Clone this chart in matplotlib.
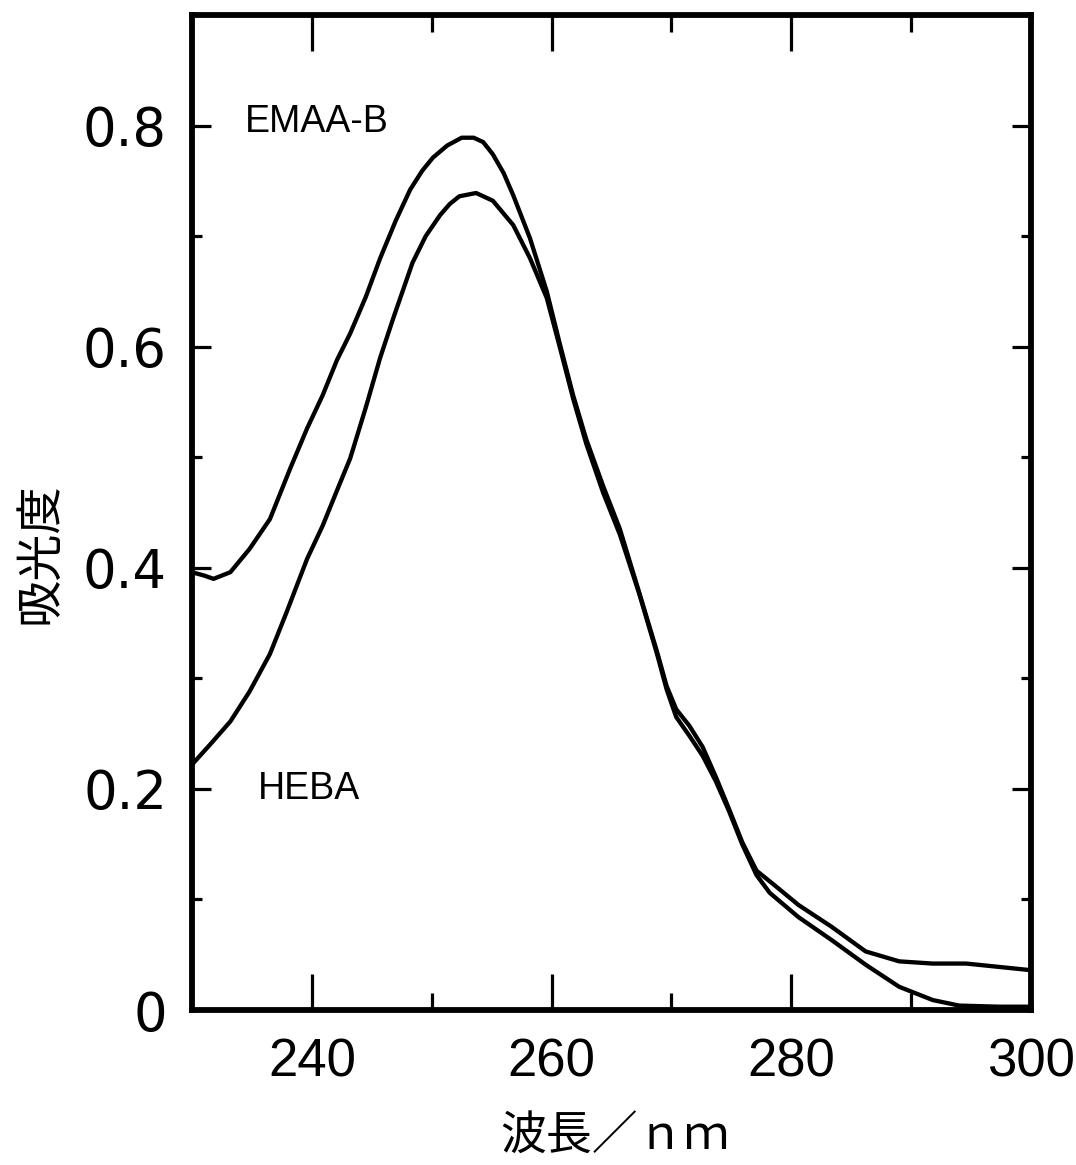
import matplotlib
matplotlib.use("Agg")
import matplotlib.pyplot as plt
from matplotlib.ticker import FixedLocator

# ---- data ----
wl_emaa = [230, 231, 231.8, 233.2, 234.8, 236.5, 238.2, 239.6, 240.9, 242.1,
           243.2, 244.5, 245.7, 247, 248.2, 249.2, 250.1, 251.3, 252.5, 253.5, 254.3,
           255.1, 256.0, 256.8, 258.2, 259.6, 260.7, 261.8, 262.9, 264.3, 265.7,
           267.3, 268.8, 269.6, 270.4, 271.5, 272.6, 273.7, 274.8, 275.9, 277.1,
           278.7, 280.6, 283.4, 286.2, 289, 291.8, 294.6, 297.3, 300]
abs_emaa = [0.396, 0.393, 0.390, 0.396, 0.417, 0.444, 0.490, 0.526, 0.556, 0.588,
            0.612, 0.645, 0.680, 0.714, 0.742, 0.759, 0.771, 0.782, 0.789, 0.789, 0.785,
            0.774, 0.757, 0.737, 0.698, 0.650, 0.602, 0.556, 0.516, 0.474, 0.435,
            0.378, 0.324, 0.293, 0.272, 0.257, 0.238, 0.211, 0.182, 0.152, 0.126,
            0.112, 0.095, 0.075, 0.053, 0.044, 0.042, 0.042, 0.039, 0.036]

wl_heba = [230, 231.5, 233.2, 234.8, 235.7, 236.5, 237.9, 239.6, 240.9, 242.1,
           243.2, 244.5, 245.7, 246.8, 248.4, 249.5, 250.7, 251.5, 252.3, 253.7, 255.1, 256.8,
           258.2, 259.6, 260.7, 261.8, 262.9, 264.3, 265.7, 267.3, 268.8, 269.6,
           270.4, 271.5, 272.6, 273.7, 274.8, 275.9, 277.1, 278.2, 280.6, 283.4,
           286.2, 289, 291.8, 294, 297.3, 300]
abs_heba = [0.222, 0.240, 0.261, 0.288, 0.306, 0.322, 0.360, 0.408, 0.438, 0.470,
            0.499, 0.545, 0.590, 0.626, 0.676, 0.700, 0.719, 0.729, 0.736, 0.739, 0.732, 0.710,
            0.680, 0.644, 0.599, 0.553, 0.512, 0.468, 0.430, 0.377, 0.322, 0.290,
            0.265, 0.248, 0.230, 0.207, 0.180, 0.150, 0.122, 0.106, 0.084, 0.063,
            0.041, 0.021, 0.009, 0.004, 0.003, 0.003]

x_major = [240, 260, 280, 300]
x_minor = [250, 270, 290]
x_labels = ["240", "260", "280", "300"]
y_major = [0, 0.2, 0.4, 0.6, 0.8]
y_minor = [0.1, 0.3, 0.5, 0.7]
y_labels = ["0", "0.2", "0.4", "0.6", "0.8"]

series_labels = ["EMAA-B", "HEBA"]
x_title = "波長／ｎｍ"
y_title = "吸光度"

plt.rcParams['font.family'] = ['DejaVu Sans']

fig = plt.figure(figsize=(10.76, 11.65), dpi=100)
ax = fig.add_axes([192/1076, 1 - 1010/1165, (1031-192)/1076, (1010-15)/1165])

ax.plot(wl_emaa, abs_emaa, color='black', lw=3.1, solid_capstyle='round', solid_joinstyle='round')
ax.plot(wl_heba, abs_heba, color='black', lw=3.1, solid_capstyle='round', solid_joinstyle='round')

ax.set_xlim(230, 300)
ax.set_ylim(0, 0.9)

for s in ax.spines.values():
    s.set_linewidth(4.2)

ax.xaxis.set_major_locator(FixedLocator(x_major))
ax.xaxis.set_minor_locator(FixedLocator(x_minor))
ax.yaxis.set_major_locator(FixedLocator(y_major))
ax.yaxis.set_minor_locator(FixedLocator(y_minor))
ax.set_xticklabels(x_labels, fontfamily='Liberation Sans', fontsize=38)
ax.set_yticklabels(y_labels, fontfamily='DejaVu Sans', fontsize=38)

ax.tick_params(axis='x', which='major', direction='in', length=26, width=2.3,
               top=True, bottom=True, pad=20)
ax.tick_params(axis='x', which='minor', direction='in', length=12, width=2.3,
               top=True, bottom=True)
ax.tick_params(axis='y', which='major', direction='in', length=14, width=2.3,
               left=True, right=True, pad=18)
ax.tick_params(axis='y', which='minor', direction='in', length=7, width=2.3,
               left=True, right=True)

ax.text(234.4, 0.803, series_labels[0], fontsize=27, fontfamily='Liberation Sans',
        ha='left', va='center')
ax.text(235.5, 0.200, series_labels[1], fontsize=27, fontfamily='Liberation Sans',
        ha='left', va='center')

fig.text(40/1076, 1 - 553/1165, y_title, rotation=90, ha='center', va='center',
         fontsize=34, fontfamily=['Noto Sans CJK JP', 'DejaVu Sans'])
fig.text(615/1076, 1 - 1136/1165, x_title, ha='center', va='center',
         fontsize=33, fontfamily=['Noto Sans CJK JP', 'DejaVu Sans'])

fig.savefig("out.png", dpi=100, facecolor='white')
